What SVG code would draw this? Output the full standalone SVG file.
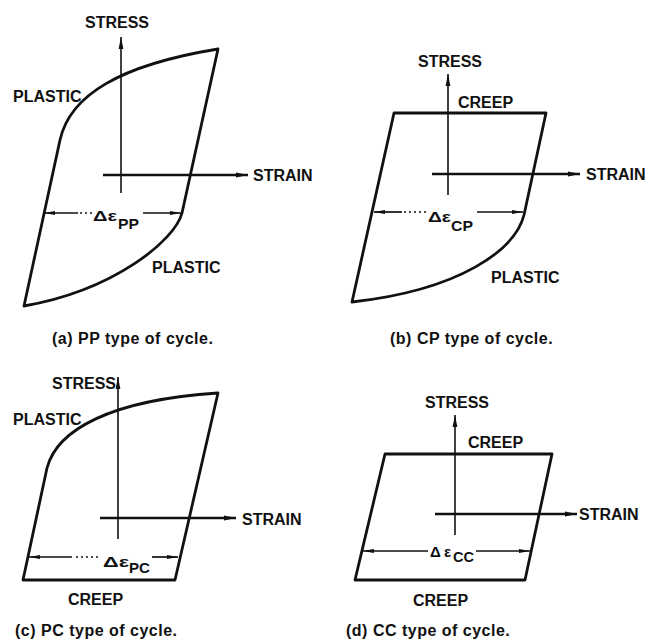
<svg xmlns="http://www.w3.org/2000/svg" width="648" height="644" viewBox="0 0 648 644">
<defs>
<marker id="arr" markerUnits="userSpaceOnUse" viewBox="0 0 12 6" refX="12" refY="3" markerWidth="12" markerHeight="6" orient="auto-start-reverse">
<path d="M0,0.6 L12,3 L0,5.4 Z" fill="#111"/>
</marker>
<marker id="darr" markerUnits="userSpaceOnUse" viewBox="0 0 12 6" refX="12" refY="3" markerWidth="11" markerHeight="6" orient="auto-start-reverse">
<path d="M0,0.8 L12,3 L0,5.2 Z" fill="#111"/>
</marker>
</defs>
<style>
.loop{fill:none;stroke:#111;stroke-width:2.8;stroke-linejoin:round;stroke-linecap:round}
.vax{stroke:#111;stroke-width:1.6;fill:none}
.hax{stroke:#111;stroke-width:2.6;fill:none}
.dim{stroke:#111;stroke-width:1.7;fill:none}
.dot{stroke:#111;stroke-width:1.4;stroke-dasharray:2 3;fill:none}
.lbl{font-family:"Liberation Sans",Arial,sans-serif;font-weight:bold;font-size:16px;fill:#111}
.cap{font-family:"Liberation Sans",Arial,sans-serif;font-weight:bold;font-size:16px;fill:#111;letter-spacing:0.5px}
.dl{font-family:"Liberation Sans",Arial,sans-serif;font-weight:bold;font-size:15px;fill:#111}
.sub{font-family:"Liberation Sans",Arial,sans-serif;font-weight:bold;font-size:14px;fill:#111}
</style>
<rect width="648" height="644" fill="#fff"/>

<g id="panel-a">
<path class="loop" d="M218,49 L182,213 C175,240 115,290 24,306 L60,140 C70,95 120,65 218,49 Z"/>
<text class="lbl" x="85" y="28">STRESS</text>
<text class="lbl" x="13" y="102">PLASTIC</text>
<text class="lbl" x="253" y="181">STRAIN</text>
<text class="lbl" x="152" y="273">PLASTIC</text>
<text class="dl" x="93" y="221" textLength="24" lengthAdjust="spacingAndGlyphs">Δε</text>
<text class="sub" x="118" y="229" textLength="21" lengthAdjust="spacingAndGlyphs">PP</text>
<text class="cap" x="52" y="344">(a) PP type of cycle.</text>
</g>

<g id="panel-b">
<path class="loop" d="M394,113 L546,113 L524,215 C515,250 460,290 352,302 Z"/>
<text class="lbl" x="418" y="67">STRESS</text>
<text class="lbl" x="458" y="108">CREEP</text>
<text class="lbl" x="586" y="180">STRAIN</text>
<text class="lbl" x="491" y="283">PLASTIC</text>
<text class="dl" x="428" y="222" textLength="23" lengthAdjust="spacingAndGlyphs">Δε</text>
<text class="sub" x="451" y="231" textLength="22" lengthAdjust="spacingAndGlyphs">CP</text>
<text class="cap" x="390" y="344">(b) CP type of cycle.</text>
</g>

<g id="panel-c">
<path class="loop" d="M218,393 L175,580 L23,580 L47,468 C57,430 110,400 218,393 Z"/>
<text class="lbl" x="52" y="389">STRESS</text>
<text class="lbl" x="13" y="425">PLASTIC</text>
<text class="lbl" x="242" y="525">STRAIN</text>
<text class="lbl" x="68" y="605">CREEP</text>
<text class="dl" x="103" y="567" textLength="26" lengthAdjust="spacingAndGlyphs">Δε</text>
<text class="sub" x="129" y="573" textLength="21" lengthAdjust="spacingAndGlyphs">PC</text>
<text class="cap" x="15" y="636">(c) PC type of cycle.</text>
</g>

<g id="panel-d">
<path class="loop" d="M385,454 L552,454 L525,580 L355,580 Z"/>
<text class="lbl" x="425" y="408">STRESS</text>
<text class="lbl" x="468" y="448">CREEP</text>
<text class="lbl" x="579" y="520">STRAIN</text>
<text class="lbl" x="413" y="606">CREEP</text>
<text class="dl" x="430" y="557">Δ</text>
<text class="dl" x="444" y="557">ε</text>
<text class="sub" x="453" y="562" textLength="21" lengthAdjust="spacingAndGlyphs">CC</text>
<text class="cap" x="346" y="636">(d) CC type of cycle.</text>
</g>

<g id="connectors">
<line class="vax" x1="121" y1="193" x2="121" y2="37" marker-end="url(#arr)"/>
<line class="hax" x1="103" y1="175" x2="248" y2="175" marker-end="url(#arr)"/>
<line class="vax" x1="448" y1="195" x2="448" y2="74" marker-end="url(#arr)"/>
<line class="hax" x1="432" y1="174" x2="580" y2="174" marker-end="url(#arr)"/>
<line class="vax" x1="118" y1="539" x2="118" y2="377" marker-end="url(#arr)"/>
<line class="hax" x1="100" y1="518" x2="236" y2="518" marker-end="url(#arr)"/>
<line class="vax" x1="455" y1="535" x2="455" y2="415" marker-end="url(#arr)"/>
<line class="hax" x1="435" y1="514" x2="577" y2="514" marker-end="url(#arr)"/>
<line class="dim" x1="78" y1="213" x2="44" y2="213" marker-end="url(#darr)"/>
<line class="dot" x1="80" y1="213" x2="92" y2="213"/>
<line class="dim" x1="143" y1="213" x2="181" y2="213" marker-end="url(#darr)"/>
<line class="dim" x1="402" y1="212" x2="374" y2="212" marker-end="url(#darr)"/>
<line class="dot" x1="404" y1="212" x2="426" y2="212"/>
<line class="dim" x1="477" y1="212" x2="523" y2="212" marker-end="url(#darr)"/>
<line class="dim" x1="72" y1="557" x2="29" y2="557" marker-end="url(#darr)"/>
<line class="dot" x1="76" y1="557" x2="100" y2="557"/>
<line class="dim" x1="152" y1="557" x2="178" y2="557" marker-end="url(#darr)"/>
<line class="dim" x1="428" y1="551" x2="363" y2="551" marker-end="url(#darr)"/>
<line class="dim" x1="476" y1="551" x2="530" y2="551" marker-end="url(#darr)"/>
</g>
</svg>
